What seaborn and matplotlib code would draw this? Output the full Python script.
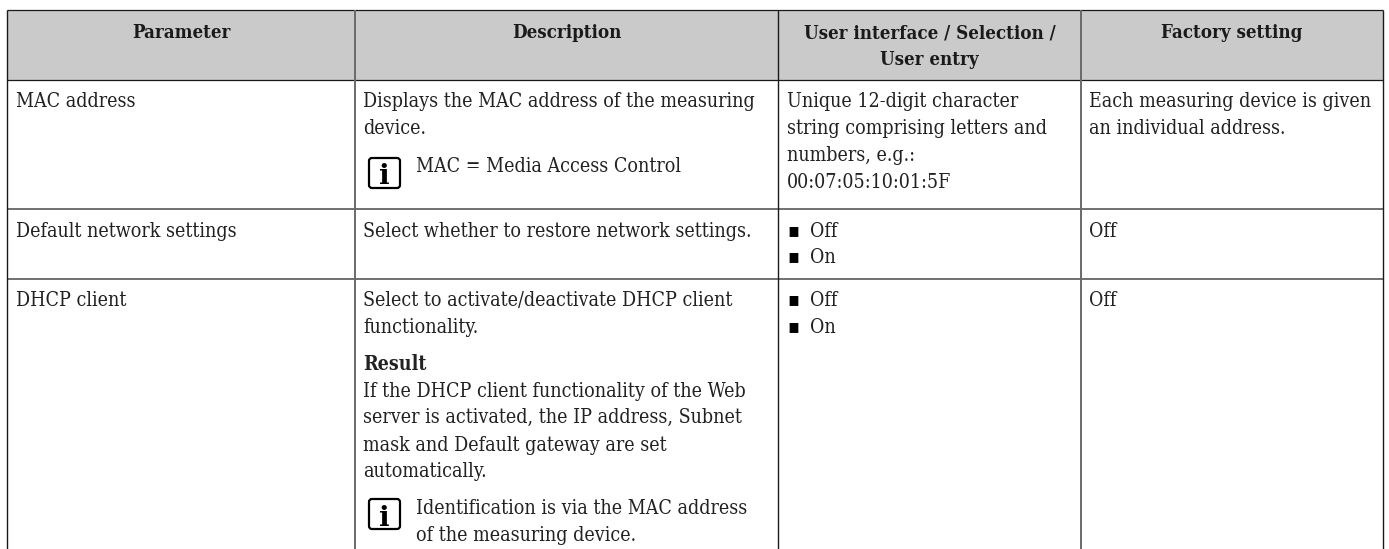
import matplotlib
matplotlib.use("Agg")
import matplotlib.pyplot as plt
from matplotlib.patches import FancyBboxPatch, Rectangle
import seaborn as sns

sns.set_theme(style="white")
plt.rcParams['font.family'] = ['DejaVu Serif', 'DejaVu Sans']

W, H = 1389, 549
FS = 14.05

headers = ["Parameter", "Description", ["User interface / Selection /", "User entry"], "Factory setting"]
col_edges = [7, 355, 778, 1081, 1383]
row_edges = [10, 80, 209, 279]

col1 = [("MAC address", 107), ("Default network settings", 237), ("DHCP client", 306)]
col2 = [("Displays the MAC address of the measuring", 107), ("device.", 134),
        ("Select whether to restore network settings.", 237),
        ("Select to activate/deactivate DHCP client", 306), ("functionality.", 333),
        ("If the DHCP client functionality of the Web", 397),
        ("server is activated, the IP address, Subnet", 423),
        ("mask and Default gateway are set", 451), ("automatically.", 477)]
col2_bold = [("Result", 370)]
notes = [("MAC = Media Access Control", 172), ("Identification is via the MAC address", 514), ("of the measuring device.", 541)]
icons = [(368, 157), (368, 498)]
col3 = [("Unique 12-digit character", 107), ("string comprising letters and", 134),
        ("numbers, e.g.:", 161), ("00:07:05:10:01:5F", 188)]
bullets = [("Off", 237), ("On", 263), ("Off", 306), ("On", 333)]
col4 = [("Each measuring device is given", 107), ("an individual address.", 134), ("Off", 237), ("Off", 306)]

fig = plt.figure(figsize=(W / 100, H / 100), dpi=100)
ax = fig.add_axes([0, 0, 1, 1])
ax.set_xlim(0, W)
ax.set_ylim(H, 0)
ax.axis("off")

kw = dict(fontsize=FS, color="#222222", va="baseline", fontstretch="condensed")
hkw = dict(kw, fontsize=13.4, fontweight="bold", ha="center", color="#1a1a1a")
ax.add_patch(Rectangle((col_edges[0], row_edges[0]), col_edges[-1] - col_edges[0],
                       row_edges[1] - row_edges[0], fc="#cacaca", ec="none"))
ax.hlines(row_edges[:2], col_edges[0], col_edges[-1], color="#1a1a1a", lw=0.9)
ax.hlines(row_edges[2:], col_edges[0], col_edges[-1], color="#707070", lw=1.4)
ax.vlines([col_edges[0], col_edges[2], col_edges[4]], row_edges[0], H, color="#1a1a1a", lw=1.0)
ax.vlines([col_edges[1], col_edges[3]], row_edges[0], H, color="#6a6a6a", lw=1.4)

centers = [(col_edges[i] + col_edges[i + 1]) / 2 for i in range(4)]
for c, h in zip(centers, headers):
    if isinstance(h, list):
        ax.text(c, 38, h[0], **hkw)
        ax.text(c, 65, h[1], **hkw)
    else:
        ax.text(c, 38, h, **hkw)
for t, y in col1:
    ax.text(16, y, t, **kw)
for t, y in col2:
    ax.text(363, y, t, **kw)
for t, y in col2_bold:
    ax.text(363, y, t, **dict(kw, fontweight="bold"))
for t, y in notes:
    ax.text(416, y, t, **kw)
for t, y in col3:
    ax.text(787, y, t, **kw)
for t, y in bullets:
    ax.text(787, y - 1, "\u25aa", **dict(kw, color="black"))
    ax.text(810, y, t, **kw)
for t, y in col4:
    ax.text(1089, y, t, **kw)
for x, y in icons:
    ax.add_patch(FancyBboxPatch((x + 1, y + 1), 31, 30, boxstyle="round,pad=0,rounding_size=3",
                                fc="white", ec="black", lw=1.6))
    ax.text(x + 16.5, y + 27.5, "i", ha="center", va="baseline", fontsize=20, fontweight="bold", color="black")

fig.savefig("out.png", dpi=100)
